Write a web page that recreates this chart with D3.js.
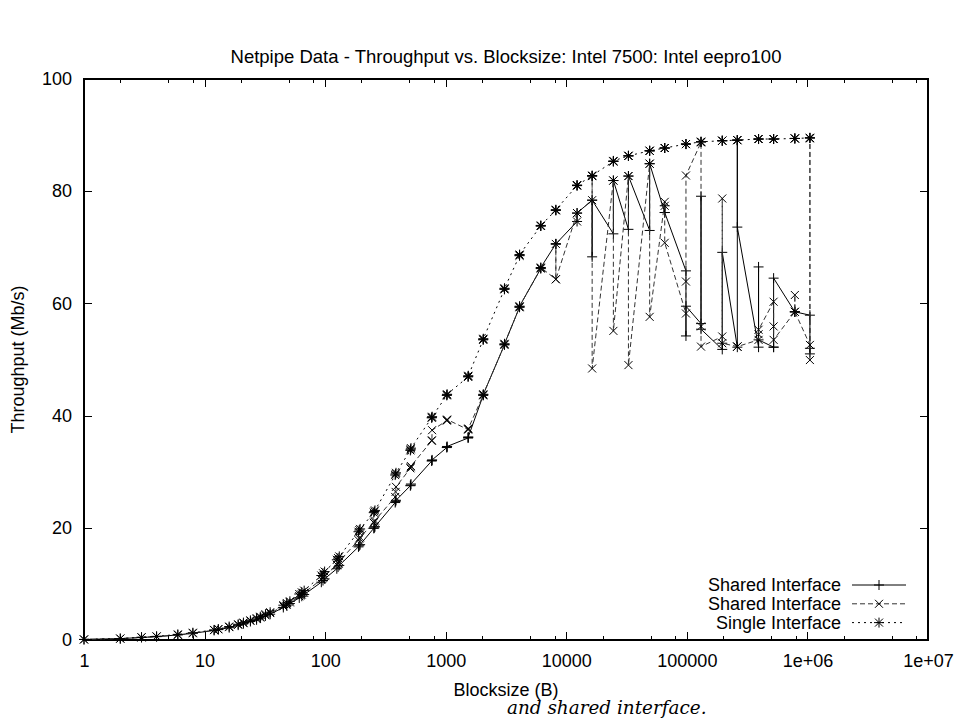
<!DOCTYPE html>
<html>
<head>
<meta charset="utf-8">
<script src="https://cdn.jsdelivr.net/npm/d3@7"></script>
<style>
  body { margin: 0; background: #fff; }
  svg text { font-family: "Liberation Sans", Arial, Helvetica, sans-serif; fill: #000; }
</style>
</head>
<body>
<div id="chart"></div>
<script>
// netpipe block sizes (bytes), with the +/-3 perturbation triplets
var blockSizes = [1, 2, 3, 4, 6, 8, 12, 13, 16, 19, 21, 24, 27, 29, 32, 35, 45, 48, 51, 61, 64, 67,
  93, 96, 99, 125, 128, 131, 189, 192, 195, 253, 256, 259, 381, 384, 387, 509, 512, 515,
  765, 768, 771, 1021, 1024, 1027, 1533, 1536, 1539, 2045, 2048, 2051, 3069, 3072, 3075,
  4093, 4096, 4099, 6141, 6144, 6147, 8189, 8192, 8195, 12285, 12288, 12291,
  16381, 16384, 16387, 24573, 24576, 24579, 32765, 32768, 32771, 49149, 49152, 49155,
  65533, 65536, 65539, 98301, 98304, 98307, 131069, 131072, 131075, 196605, 196608, 196611,
  262141, 262144, 262147, 393213, 393216, 393219, 524285, 524288, 524291,
  786429, 786432, 786435, 1048573, 1048576, 1048579];

// throughput (Mb/s), shared interface run 1 (solid, +)
var sharedSolid = [0.1, 0.25, 0.45, 0.6, 0.9, 1.2, 1.7, 1.85, 2.2, 2.65, 2.9, 3.3, 3.6, 3.9, 4.3, 4.6, 5.8, 6.1, 6.5, 7.5, 7.8, 8.1,
  10.3, 10.6, 10.9, 12.7, 13.0, 13.3, 16.6, 16.8, 17.0, 19.9, 20.0, 20.2, 24.5, 24.7, 24.9, 27.5, 27.6, 27.8,
  31.9, 32.0, 32.1, 34.3, 34.4, 34.5, 36.0, 36.1, 36.2, 43.6, 43.7, 43.8, 52.6, 52.7, 52.8,
  59.3, 59.4, 59.5, 66.2, 66.3, 66.4, 70.6, 70.6, 70.6, 74.6, 76.1, 76.1,
  78.4, 68.3, 78.4, 72.4, 81.9, 81.9, 73.2, 82.7, 82.7, 73.0, 84.9, 84.9,
  76.2, 77.4, 76.2, 65.8, 54.2, 59.5, 56.4, 79.1, 55.4, 51.8, 52.9, 69.1,
  52.2, 89.1, 73.6, 52.2, 66.5, 53.5, 52.2, 52.2, 64.5,
  58.5, 58.5, 58.5, 57.9, 52.0, 51.0];

// shared interface run 2 (dashed, x)
var sharedDashed = [0.1, 0.25, 0.45, 0.6, 0.9, 1.2, 1.75, 1.9, 2.3, 2.7, 3.0, 3.4, 3.75, 4.0, 4.4, 4.8, 6.0, 6.3, 6.7, 7.8, 8.1, 8.4,
  10.8, 11.1, 11.4, 13.4, 13.7, 14.0, 17.8, 18.1, 18.3, 20.9, 21.1, 21.3, 25.5, 26.4, 27.3, 30.6, 30.8, 31.0,
  35.5, 35.6, 37.4, 39.1, 39.2, 39.3, 37.5, 37.6, 37.7, 43.6, 43.7, 43.8, 52.6, 52.7, 52.8,
  59.3, 59.4, 59.5, 66.2, 66.3, 66.4, 64.3, 70.6, 64.3, 76.1, 74.6, 76.1,
  78.4, 82.7, 48.4, 81.9, 81.9, 55.1, 82.7, 82.7, 49.0, 84.9, 84.9, 57.6,
  78.1, 77.4, 70.8, 58.2, 63.9, 82.8, 88.7, 55.9, 52.3, 54.1, 78.7, 52.9,
  52.3, 52.3, 52.3, 53.5, 54.5, 55.3, 60.3, 55.9, 53.5,
  58.5, 61.5, 58.5, 52.6, 89.4, 49.9];

// single interface (dotted, *)
var singleIface = [0.1, 0.25, 0.5, 0.65, 1.0, 1.3, 1.8, 1.95, 2.4, 2.8, 3.1, 3.5, 3.9, 4.15, 4.6, 4.95, 6.2, 6.6, 6.9, 8.2, 8.5, 8.8,
  11.5, 11.9, 12.2, 14.3, 14.6, 14.9, 19.3, 19.6, 19.8, 22.7, 22.9, 23.1, 29.4, 29.6, 29.8, 33.8, 34.0, 34.2,
  39.6, 39.7, 39.8, 43.6, 43.7, 43.8, 46.9, 47.0, 47.1, 53.5, 53.6, 53.7, 62.5, 62.6, 62.7,
  68.5, 68.6, 68.7, 73.8, 73.8, 73.9, 76.6, 76.6, 76.7, 81.0, 81.0, 81.1,
  82.7, 82.7, 82.8, 85.3, 85.3, 85.4, 86.3, 86.3, 86.3, 87.2, 87.2, 87.2,
  87.7, 87.7, 87.7, 88.4, 88.4, 88.4, 88.8, 88.8, 88.8, 89.0, 89.0, 89.0,
  89.1, 89.1, 89.1, 89.3, 89.3, 89.3, 89.3, 89.3, 89.3,
  89.4, 89.4, 89.4, 89.5, 89.5, 89.5];

var seriesNames = ["Shared Interface", "Shared Interface", "Single Interface"];
var xTickValues = [1, 10, 100, 1000, 10000, 100000, 1e6, 1e7];
var xTickLabels = ["1", "10", "100", "1000", "10000", "100000", "1e+06", "1e+07"];
var xMinorMults = [2, 5, 8];
var yTickValues = [0, 20, 40, 60, 80, 100];

var W = 955, H = 721;
var m = {left: 84, right: 27, top: 79, bottom: 81};
var pw = W - m.left - m.right, ph = H - m.top - m.bottom;
var fs = "18px";

var svg = d3.select("#chart").append("svg").attr("width", W).attr("height", H);

var x = d3.scaleLog().domain([1, 1e7]).range([m.left, m.left + pw]);
var y = d3.scaleLinear().domain([0, 100]).range([m.top + ph, m.top]);

// minor x tick positions
var xMinor = [];
xTickValues.slice(0, -1).forEach(function(d) { xMinorMults.forEach(function(k) { xMinor.push(d * k); }); });

var axes = svg.append("g").attr("class", "axes").attr("shape-rendering", "crispEdges");

// bottom / top ticks (inward, mirrored)
axes.append("g").attr("transform", "translate(0," + (m.top + ph) + ")")
  .call(d3.axisBottom(x).tickValues(xTickValues).tickFormat(function(d, i) { return xTickLabels[i]; }).tickSizeInner(-8).tickSizeOuter(0).tickPadding(14))
  .call(function(g) { g.select(".domain").remove(); g.selectAll("text").style("font-size", fs); });
axes.append("g").attr("transform", "translate(0," + (m.top + ph) + ")")
  .call(d3.axisBottom(x).tickValues(xMinor).tickFormat("").tickSizeInner(-4).tickSizeOuter(0))
  .call(function(g) { g.select(".domain").remove(); });
axes.append("g").attr("transform", "translate(0," + m.top + ")")
  .call(d3.axisTop(x).tickValues(xTickValues).tickFormat("").tickSizeInner(-8).tickSizeOuter(0))
  .call(function(g) { g.select(".domain").remove(); });
axes.append("g").attr("transform", "translate(0," + m.top + ")")
  .call(d3.axisTop(x).tickValues(xMinor).tickFormat("").tickSizeInner(-4).tickSizeOuter(0))
  .call(function(g) { g.select(".domain").remove(); });

// left / right ticks
axes.append("g").attr("transform", "translate(" + m.left + ",0)")
  .call(d3.axisLeft(y).tickValues(yTickValues).tickSizeInner(-8).tickSizeOuter(0).tickPadding(12))
  .call(function(g) { g.select(".domain").remove(); g.selectAll("text").style("font-size", fs); });
axes.append("g").attr("transform", "translate(" + (m.left + pw) + ",0)")
  .call(d3.axisRight(y).tickValues(yTickValues).tickFormat("").tickSizeInner(-8).tickSizeOuter(0))
  .call(function(g) { g.select(".domain").remove(); });

axes.selectAll(".tick line").attr("stroke", "#000");

// frame
axes.append("rect").attr("x", m.left).attr("y", m.top).attr("width", pw).attr("height", ph)
  .attr("fill", "none").attr("stroke", "#000").attr("stroke-width", 1.2);

// titles
svg.append("text").attr("x", m.left + pw / 2).attr("y", 63).attr("text-anchor", "middle")
  .style("font-size", "18.5px").text("Netpipe Data - Throughput vs. Blocksize: Intel 7500: Intel eepro100");
svg.append("text").attr("x", m.left + pw / 2).attr("y", 696).attr("text-anchor", "middle")
  .style("font-size", fs).text("Blocksize (B)");
svg.append("text").attr("transform", "translate(24," + (m.top + ph / 2) + ") rotate(-90)").attr("text-anchor", "middle")
  .style("font-size", fs).text("Throughput (Mb/s)");
svg.append("text").attr("x", 507).attr("y", 714)
  .style("font-family", "'DejaVu Serif', serif").style("font-style", "italic").style("font-size", "18.4px")
  .text("and shared interface.");

// markers
var plusPath = "M-5,0H5M0,-5V5";
var crossPath = "M-4,-4L4,4M-4,4L4,-4";
var starPath = plusPath + crossPath;

var series = [
  {name: seriesNames[0], values: sharedSolid, dash: null, color: "#000", marker: plusPath},
  {name: seriesNames[1], values: sharedDashed, dash: "5,3", color: "#333", marker: crossPath},
  {name: seriesNames[2], values: singleIface, dash: "2,4", color: "#000", marker: starPath}
];

var line = d3.line().x(function(d) { return x(d[0]); }).y(function(d) { return y(d[1]); });

var plot = svg.append("g").attr("class", "plot");
series.forEach(function(s) {
  var pts = blockSizes.map(function(b, i) { return [b, s.values[i]]; });
  var g = plot.append("g");
  g.append("path").datum(pts).attr("d", line).attr("fill", "none")
    .attr("stroke", s.color).attr("stroke-width", 1).attr("stroke-dasharray", s.dash);
  g.selectAll("path.pt").data(pts).enter().append("path").attr("class", "pt")
    .attr("transform", function(d) { return "translate(" + x(d[0]) + "," + y(d[1]) + ")"; })
    .attr("d", s.marker).attr("fill", "none").attr("stroke", "#000").attr("stroke-width", 1);
});

// legend
var leg = svg.append("g").attr("class", "legend");
series.forEach(function(s, i) {
  var cy = 585 + i * 18.8;
  leg.append("text").attr("x", 841).attr("y", cy + 6).attr("text-anchor", "end")
    .style("font-size", fs).text(s.name);
  leg.append("line").attr("x1", 852).attr("x2", 906).attr("y1", cy).attr("y2", cy)
    .attr("stroke", s.color).attr("stroke-width", 1).attr("stroke-dasharray", s.dash);
  leg.append("path").attr("transform", "translate(879," + cy + ")").attr("d", s.marker)
    .attr("fill", "none").attr("stroke", "#000");
});
</script>
</body>
</html>
